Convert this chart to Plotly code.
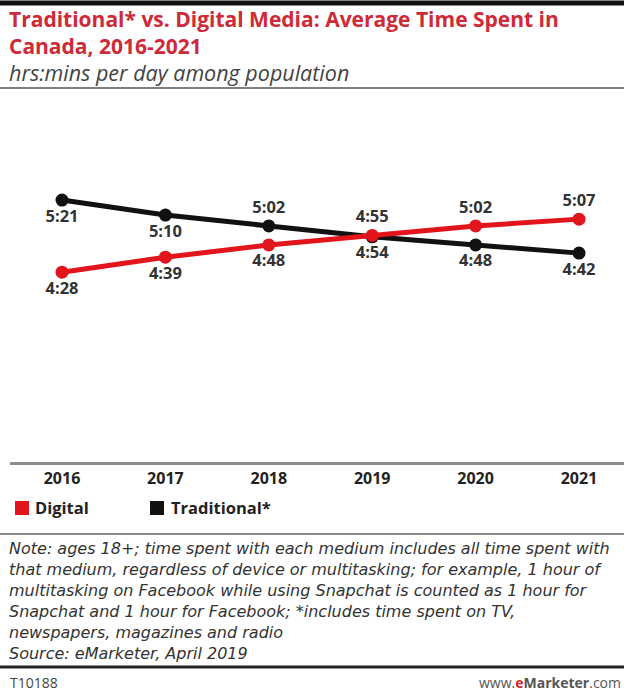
import plotly.graph_objects as go

# Average daily time spent (hrs:mins) among Canadian adults
years = [2016, 2017, 2018, 2019, 2020, 2021]
digital_hm = ["4:28", "4:39", "4:48", "4:55", "5:02", "5:07"]
traditional_hm = ["5:21", "5:10", "5:02", "4:54", "4:48", "4:42"]

digital_pos = ["bottom center", "bottom center", "bottom center", "top center", "top center", "top center"]
traditional_pos = ["bottom center", "bottom center", "top center", "bottom center", "bottom center", "bottom center"]

series_names = ["Digital", "Traditional*"]

title_lines = ["Traditional* vs. Digital Media: Average Time Spent in", "Canada, 2016-2021"]
subtitle = "hrs:mins per day among population"
note_lines = [
    "Note: ages 18+; time spent with each medium includes all time spent with",
    "that medium, regardless of device or multitasking; for example, 1 hour of",
    "multitasking on Facebook while using Snapchat is counted as 1 hour for",
    "Snapchat and 1 hour for Facebook; *includes time spent on TV,",
    "newspapers, magazines and radio",
    "Source: eMarketer, April 2019",
]


def to_minutes(hm):
    h, m = hm.split(":")
    return int(h) * 60 + int(m)


digital_min = [to_minutes(v) for v in digital_hm]
traditional_min = [to_minutes(v) for v in traditional_hm]

W, H = 624, 691
L, T, B = 10, 100, 229
PW = W - L
PH = H - T - B

RED = "#e3151c"
TITLE_RED = "#cf2a38"
BLACK = "#111111"
FONT = "Open Sans"
NOTE_FONT = "DejaVu Sans"


def px(x):
    return (x - L) / PW


def py(y):
    return (H - B - y) / PH


fig = go.Figure()

label_font = dict(family=FONT, size=16.5, color="#333333", weight="bold")
fig.add_trace(go.Scatter(
    x=years, y=traditional_min, mode="lines+markers+text", name=series_names[1],
    line=dict(color=BLACK, width=5), marker=dict(color=BLACK, size=13),
    text=traditional_hm, textposition=traditional_pos, textfont=label_font,
    showlegend=False, cliponaxis=False, hoverinfo="skip",
))
fig.add_trace(go.Scatter(
    x=years, y=digital_min, mode="lines+markers+text", name=series_names[0],
    line=dict(color=RED, width=5), marker=dict(color=RED, size=13),
    text=digital_hm, textposition=digital_pos, textfont=label_font,
    showlegend=False, cliponaxis=False, hoverinfo="skip",
))

fig.update_layout(
    width=W, height=H,
    margin=dict(l=L, r=0, t=T, b=B),
    paper_bgcolor="white", plot_bgcolor="white",
    font=dict(family=FONT, color="#333333"),
    xaxis=dict(
        range=[2015.497, 2021.435], tickvals=years, ticktext=[str(y) for y in years],
        showgrid=False, zeroline=False, showline=True, linecolor="#8c8c8c", linewidth=3,
        ticks="", tickfont=dict(family=FONT, size=16, color="#222222", weight="bold"),
        ticklabelstandoff=0, fixedrange=True,
    ),
    yaxis=dict(range=[128.4, 394.6], visible=False, fixedrange=True),
    showlegend=False,
)

# rules across the page
rules = [(3, 5, "#111111"), (88, 1.5, "#555555"), (534, 2, "#8c8c8c"), (667, 3, "#222222")]
for y, w, c in rules:
    fig.add_shape(type="line", xref="paper", yref="paper", x0=px(0), x1=px(W),
                  y0=py(y), y1=py(y), line=dict(color=c, width=w))

ann = []
# legend: swatches with bold labels
legend_items = [(15, 33, RED, series_names[0]), (150, 169, BLACK, series_names[1])]
for sx, tx, col, name in legend_items:
    fig.add_shape(type="rect", xref="paper", yref="paper",
                  x0=px(sx), x1=px(sx + 14), y0=py(515), y1=py(501),
                  fillcolor=col, line=dict(width=0))
    ann.append(dict(x=px(tx), y=py(507), xanchor="left", yanchor="middle", text=name,
                    font=dict(family=FONT, size=16.5, color="#222222", weight="bold")))

ann.append(dict(x=px(7), y=py(33), xanchor="left", yanchor="middle",
                text="<b>" + "<br>".join(title_lines) + "</b>",
                font=dict(family=FONT, size=21, color=TITLE_RED)))
ann.append(dict(x=px(7), y=py(73), xanchor="left", yanchor="middle",
                text="<i>" + subtitle + "</i>",
                font=dict(family=FONT, size=21.5, color="#444444")))
for yc, line in zip([548, 569, 590, 611, 632, 653], note_lines):
    ann.append(dict(x=px(7), y=py(yc), xanchor="left", yanchor="middle",
                    text="<i>" + line + "</i>",
                    font=dict(family=NOTE_FONT, size=16, color="#333333")))
ann.append(dict(x=px(8), y=py(682), xanchor="left", yanchor="middle",
                text="T10188", font=dict(family=FONT, size=14, color="#444444")))
ann.append(dict(x=px(623), y=py(682), xanchor="right", yanchor="middle",
                text="www.<b><span style='color:#d6232c'>e</span>Marketer</b>.com",
                font=dict(family=FONT, size=14, color="#555555")))
for a in ann:
    a.update(xref="paper", yref="paper", showarrow=False, align="left")
    fig.add_annotation(**a)

fig.write_html("out.html")
